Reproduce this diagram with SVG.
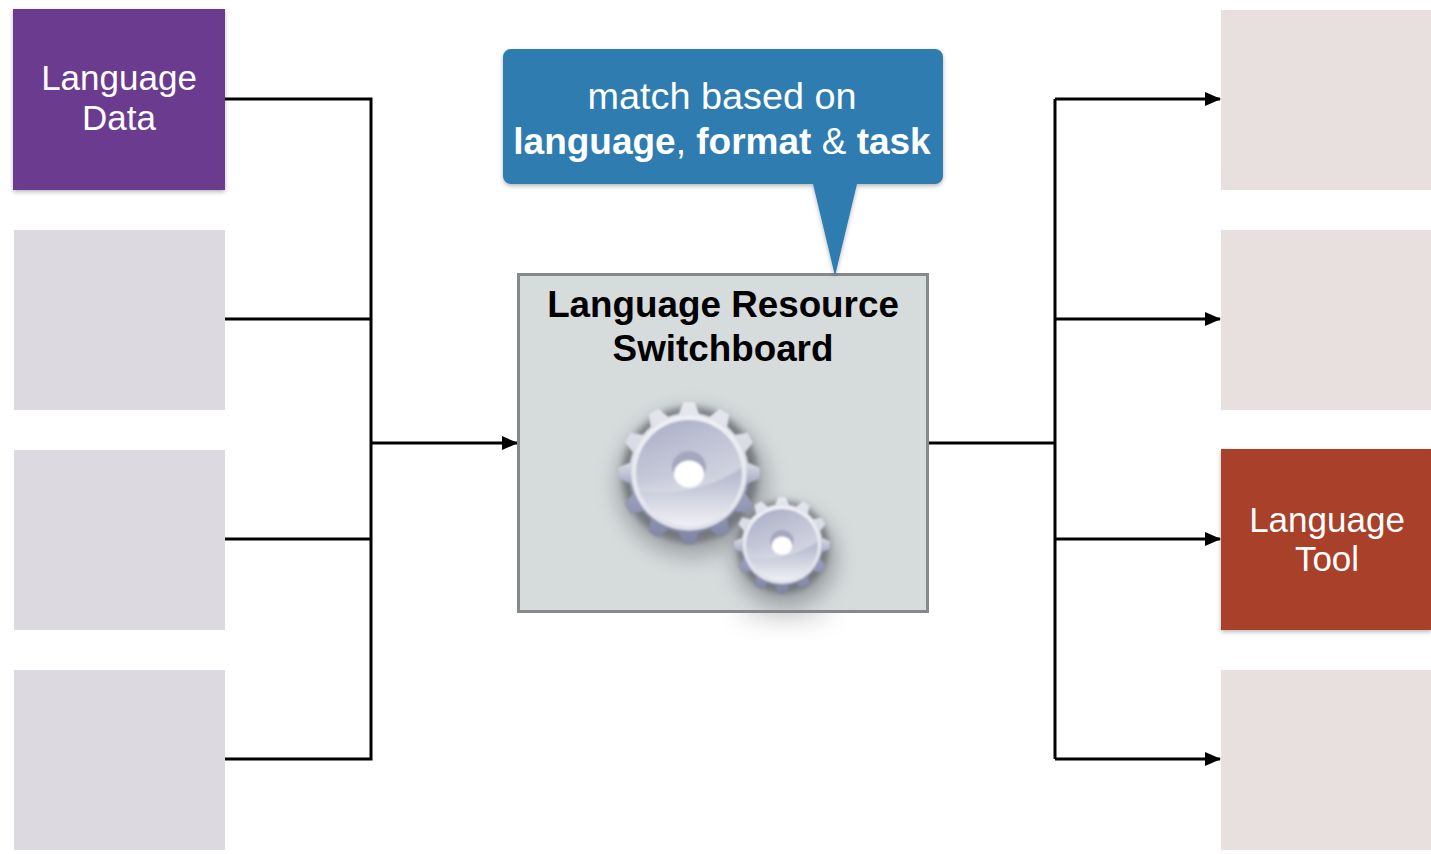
<svg xmlns="http://www.w3.org/2000/svg" xmlns:xlink="http://www.w3.org/1999/xlink" width="1431" height="854" viewBox="0 0 1431 854">
<style>
.t{font-family:"Liberation Sans",Arial,sans-serif;text-anchor:middle}
.w{fill:#fff;font-size:35px}
.b{font-weight:700}
.c{fill:none;stroke:#000;stroke-width:3}
.fl{fill:#dcdae0}
.fr{fill:#e8e0df}
</style>
<defs>
<marker id="a" markerUnits="userSpaceOnUse" markerWidth="16" markerHeight="14" refX="15" refY="7" orient="auto"><path d="M0 0L16 7L0 14z" fill="#000"/></marker>
<filter id="s" x="-10%" y="-10%" width="120%" height="125%"><feDropShadow dx="0" dy="2" stdDeviation="2" flood-color="#000" flood-opacity=".28"/></filter>
<filter id="bl" x="-50%" y="-50%" width="200%" height="200%"><feGaussianBlur stdDeviation="10"/></filter>
<filter id="bl3" x="-50%" y="-50%" width="200%" height="200%"><feGaussianBlur stdDeviation="3"/></filter>
<filter id="bl2" x="-10%" y="-10%" width="120%" height="120%"><feGaussianBlur stdDeviation=".8"/></filter>
<linearGradient id="tooth" gradientUnits="userSpaceOnUse" x1="0" y1="-72" x2="0" y2="72"><stop offset="0" stop-color="#e8e9ef"/><stop offset=".45" stop-color="#d2d4e0"/><stop offset=".6" stop-color="#9da2bf"/><stop offset="1" stop-color="#7f84a4"/></linearGradient>
<linearGradient id="ring" x1="0" y1="0" x2="0" y2="1"><stop offset="0" stop-color="#f0f1f5"/><stop offset="1" stop-color="#e0e1ea"/></linearGradient>
<linearGradient id="disc" x1="0" y1="0" x2="0" y2="1"><stop offset="0" stop-color="#a8abc4"/><stop offset=".55" stop-color="#bcbfd2"/><stop offset="1" stop-color="#f0f0f5"/></linearGradient>
<linearGradient id="gloss" x1="0" y1="0" x2="1" y2=".6"><stop offset="0" stop-color="#fff" stop-opacity="0"/><stop offset="1" stop-color="#fff" stop-opacity=".6"/></linearGradient>
<path id="tt" d="M-11 -57L-5.500 -71H5.500L11 -57Z"/>
<clipPath id="teeth">
<circle r="60"/>
<use xlink:href="#tt"/>
<use xlink:href="#tt" transform="rotate(30)"/>
<use xlink:href="#tt" transform="rotate(60)"/>
<use xlink:href="#tt" transform="rotate(90)"/>
<use xlink:href="#tt" transform="rotate(120)"/>
<use xlink:href="#tt" transform="rotate(150)"/>
<use xlink:href="#tt" transform="rotate(180)"/>
<use xlink:href="#tt" transform="rotate(210)"/>
<use xlink:href="#tt" transform="rotate(240)"/>
<use xlink:href="#tt" transform="rotate(270)"/>
<use xlink:href="#tt" transform="rotate(300)"/>
<use xlink:href="#tt" transform="rotate(330)"/>
</clipPath>
<g id="gear">
<rect x="-75" y="-75" width="150" height="150" fill="url(#tooth)" clip-path="url(#teeth)"/>
<circle r="57.500" fill="url(#ring)"/>
<circle r="53" fill="url(#disc)"/>
<path d="M-51 18C-15 24 30 12 53 -6C50 -34 25 -53 0 -53C-30 -53 -54 -28 -54 0C-54 7 -53 12 -51 18Z" fill="url(#gloss)" opacity=".55"/>
<ellipse cy="-6" rx="17" ry="16" fill="#a4a7bd"/>
<ellipse cy="1" rx="15" ry="13.500" fill="#fff"/>
</g>
</defs>

<g id="connectors">
<path class="c" d="M225 99H371V759H225M225 319H371M225 539H371"/>
<path class="c" d="M371 443H517" marker-end="url(#a)"/>
<path class="c" d="M929 443H1055"/>
<path class="c" d="M1055 99V759"/>
<path class="c" d="M1055 99H1220" marker-end="url(#a)"/>
<path class="c" d="M1055 319H1220" marker-end="url(#a)"/>
<path class="c" d="M1055 539H1220" marker-end="url(#a)"/>
<path class="c" d="M1055 759H1220" marker-end="url(#a)"/>
</g>

<g id="language-data"><rect x="13" y="9" width="212" height="181" fill="#6b3a8e" filter="url(#s)"/><text class="t w" x="119" y="90">Language</text><text class="t w" x="119" y="130">Data</text></g>
<g id="faded-left-1"><rect class="fl" x="14" y="230" width="211" height="180"/></g>
<g id="faded-left-2"><rect class="fl" x="14" y="450" width="211" height="180"/></g>
<g id="faded-left-3"><rect class="fl" x="14" y="670" width="211" height="180"/></g>

<g id="faded-right-1"><rect class="fr" x="1221" y="10" width="210" height="180"/></g>
<g id="faded-right-2"><rect class="fr" x="1221" y="230" width="210" height="180"/></g>
<g id="language-tool"><rect x="1221" y="449" width="210" height="181" fill="#a83f2a" filter="url(#s)"/><text class="t w" x="1327" y="532">Language</text><text class="t w" x="1327" y="571">Tool</text></g>
<g id="faded-right-3"><rect class="fr" x="1221" y="670" width="210" height="180"/></g>

<g id="switchboard">
<ellipse cx="785" cy="612" rx="50" ry="14" fill="#8a8d90" opacity=".22" filter="url(#bl)"/>
<rect x="518.500" y="274.500" width="409" height="337" fill="#d6dbdc" stroke="#85898c" stroke-width="3"/>
<text class="t b" x="723" y="317" font-size="36.800" fill="#000">Language Resource</text>
<text class="t b" x="723" y="361" font-size="36.800" fill="#000">Switchboard</text>
<ellipse cx="692" cy="484" rx="76" ry="74" fill="#7a7e83" opacity=".55" filter="url(#bl)"/>
<ellipse cx="785" cy="558" rx="52" ry="50" fill="#7a7e83" opacity=".6" filter="url(#bl)"/>
<circle cx="690" cy="475" r="68" fill="#4e5158" opacity=".55" filter="url(#bl3)"/>
<circle cx="783" cy="547" r="46" fill="#4e5158" opacity=".55" filter="url(#bl3)"/>
<g id="gear-large" filter="url(#bl2)"><use xlink:href="#gear" transform="translate(689 473)"/></g>
<g id="gear-small" filter="url(#bl2)"><use xlink:href="#gear" transform="translate(782 545) scale(.68)"/></g>
</g>

<g id="callout">
<path d="M511 49H935a8 8 0 0 1 8 8V176a8 8 0 0 1-8 8H857L835 276L813 184H511a8 8 0 0 1-8-8V57a8 8 0 0 1 8-8Z" fill="#2e7bb0" filter="url(#s)"/>
<text class="t" x="722" y="109" font-size="37.800" fill="#fff">match based on</text>
<text class="t" x="722" y="154" font-size="37" fill="#fff"><tspan class="b">language</tspan>, <tspan class="b">format</tspan> &amp; <tspan class="b">task</tspan></text>
</g>
</svg>
